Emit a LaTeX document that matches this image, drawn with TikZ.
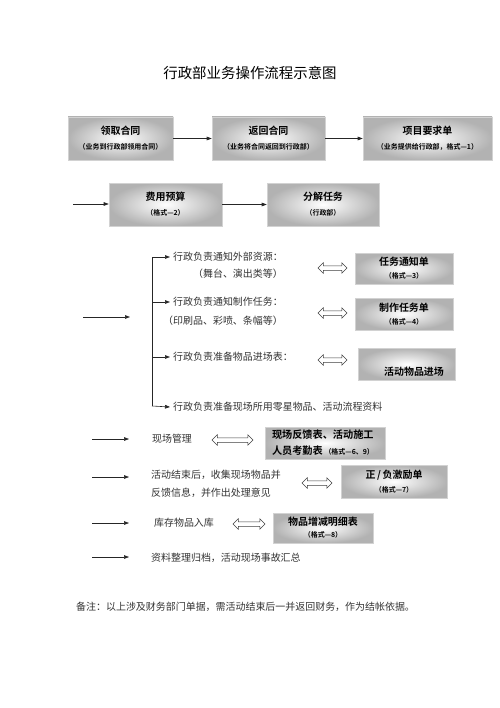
\documentclass[tikz,border=0pt]{standalone}
\usepackage{fontspec}
\setmainfont{Noto Sans CJK SC}[BoldFont={Noto Sans CJK SC Bold}]
\usetikzlibrary{arrows.meta,shapes.arrows}
\tikzset{
  box/.style={rectangle, draw=gray!35, line width=0.6pt, shading=radial,
    inner color=white, outer color=gray!60, align=center, inner sep=0pt,
    text=black, font=\bfseries\fontsize{10}{14}\selectfont},
  txt/.style={inner sep=0pt, text=black!80, font=\fontsize{10}{18}\selectfont},
  arr/.style={draw=black!85, line width=0.6pt, -{Triangle[length=5bp,width=3.6bp]}},
  branch/.style={draw=black!85, line width=0.6pt},
  dbl/.style={double arrow, draw=black!75, fill=white, line width=0.5pt,
    inner sep=2bp, minimum width=10bp, double arrow head extend=3bp}
}
\newcommand{\sm}[1]{{\bfseries\fontsize{7}{8}\selectfont #1}}
\begin{document}
\begin{tikzpicture}[x=1bp,y=-1bp]
\useasboundingbox[fill=white] (0,0) rectangle (500,708);

% title
\node[inner sep=0pt, font=\fontsize{14.5}{16}\selectfont] (title) at (250,73) {行政部业务操作流程示意图};

% row 1
\node[box, minimum width=105bp, minimum height=43bp] (b1) at (120.5,138.5)
  {领取合同\\[1pt]\sm{（业务到行政部领用合同）}};
\node[box, minimum width=113bp, minimum height=43bp] (b2) at (268.5,138.5)
  {返回合同\\[1pt]\sm{（业务将合同返回到行政部）}};
\node[box, minimum width=129bp, minimum height=43bp] (b3) at (427.5,138.5)
  {项目要求单\\[1pt]\sm{（业务提供给行政部，格式—1）}};
\draw[arr] (b1) -- (b2);
\draw[arr] (b2) -- (b3);

% row 2
\coordinate (in2) at (73,204);
\node[box, minimum width=113bp, minimum height=43bp] (b4) at (165.5,204.5)
  {费用预算\\[1pt]\sm{（格式—2）}};
\node[box, minimum width=112bp, minimum height=43bp] (b5) at (323,204.5)
  {分解任务\\[1pt]\sm{（行政部）}};
\draw[arr] (in2) -- (b4.west |- in2);
\draw[arr] (b4) -- (b5);

% section 3
\coordinate (s3a) at (83,317);
\coordinate (s3b) at (130,317);
\draw[arr] (s3a) -- (s3b);

\coordinate (vtop) at (152,257);
\coordinate (vbot) at (152,406);
\node[txt, anchor=west] (t1) at (173,257) {行政负责通知外部资源：};
\node[txt, anchor=east] (t1b) at (t1.east |- 0,274) {（舞台、演出类等）};
\node[txt, anchor=west] (t2) at (173,302) {行政负责通知制作任务：};
\node[txt, anchor=east] (t2b) at (t2.east |- 0,321) {（印刷品、彩喷、条幅等）};
\node[txt, anchor=west] (t3) at (173,357) {行政负责准备物品进场表：};
\node[txt, anchor=west] (t4) at (173,407) {行政负责准备现场所用零星物品、活动流程资料};

\draw[branch] (vtop) -- (vbot);
\draw[arr] (vtop) -- ([xshift=-3bp]t1.west);
\draw[arr] (152,302) -- ([xshift=-3bp]t2.west);
\draw[arr] (152,357) -- ([xshift=-3bp]t3.west);
\draw[arr] (vbot) -- ([xshift=-3bp]t4.west);

\node[dbl, minimum height=29bp] (d1) at (332.5,268) {};
\node[dbl, minimum height=29bp] (d2) at (332.5,313) {};
\node[dbl, minimum height=29bp] (d3) at (332.5,360) {};

\node[box, minimum width=98bp, minimum height=31bp, font=\bfseries\fontsize{10}{13}\selectfont] (f3) at (404,268.5)
  {任务通知单\\\sm{（格式—3）}};
\node[box, minimum width=98bp, minimum height=32bp, font=\bfseries\fontsize{10}{13}\selectfont] (f4) at (404,314)
  {制作任务单\\\sm{（格式—4）}};
\node[box, minimum width=97bp, minimum height=32bp] (f5) at (406.5,364) {};
\node[inner sep=0pt, font=\bfseries\fontsize{10}{12}\selectfont] (f5t) at (414,372) {活动物品进场};

% lower section
\coordinate (a1s) at (92,439); \coordinate (a1e) at (129,439);
\coordinate (a2s) at (92,477); \coordinate (a2e) at (129,477);
\coordinate (a3s) at (92,523); \coordinate (a3e) at (129,523);
\coordinate (a4s) at (92,557); \coordinate (a4e) at (129,557);
\draw[arr] (a1s) -- (a1e);
\draw[arr] (a2s) -- (a2e);
\draw[arr] (a3s) -- (a3e);
\draw[arr] (a4s) -- (a4e);

\node[txt] (m1) at (172,439) {现场管理};
\node[dbl, minimum height=41bp] (d4) at (232.5,440) {};
\node[box, minimum width=120bp, minimum height=32bp, align=left, text width=106bp,
  font=\bfseries\fontsize{10.2}{16}\selectfont] (f6) at (325,443)
  {现场反馈表、活动施工\\人员考勤表\,\sm{（格式—6、9）}};

\node[txt, anchor=west, align=left] (m2) at (151,484)
  {活动结束后，收集现场物品并\\反馈信息，并作出处理意见};
\node[dbl, minimum height=30bp] (d5) at (317,483) {};
\node[box, minimum width=106bp, minimum height=33bp, font=\bfseries\fontsize{10}{14}\selectfont] (f7) at (394,481.5)
  {正\,/\,负激励单\\\sm{（格式—7）}};

\node[txt] (m3) at (184,523) {库存物品入库};
\node[dbl, minimum height=32bp] (d6) at (249,524) {};
\node[box, minimum width=100bp, minimum height=30bp, font=\bfseries\fontsize{10}{12}\selectfont] (f8) at (323,528)
  {物品增减明细表\\\sm{（格式—8）}};

\node[txt, anchor=west] (m4) at (151,558) {资料整理归档，活动现场事故汇总};

\node[txt, anchor=west] (note) at (76,607) {备注：以上涉及财务部门单据，需活动结束后一并返回财务，作为结帐依据。};
\end{tikzpicture}
\end{document}
